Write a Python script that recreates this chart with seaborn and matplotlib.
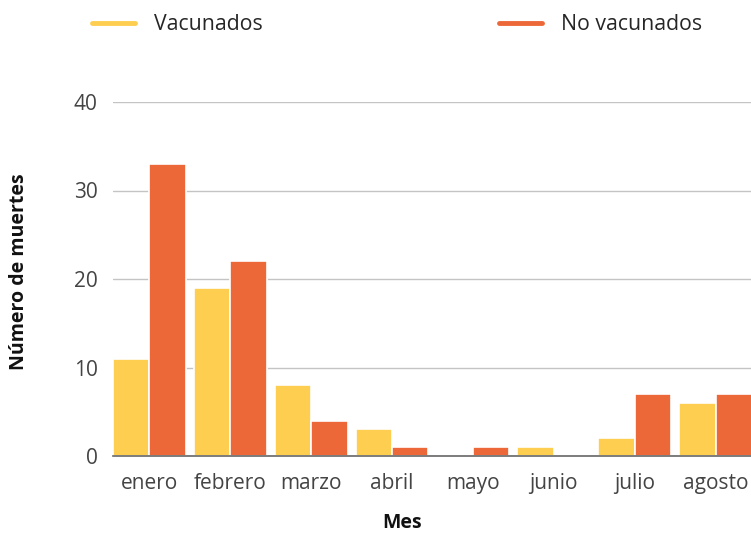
import numpy as np
import pandas as pd
import seaborn as sns
import matplotlib.pyplot as plt
from matplotlib.lines import Line2D

meses = ["enero", "febrero", "marzo", "abril", "mayo", "junio", "julio", "agosto"]
vacunados = [11, 19, 8, 3, 0, 1, 2, 6]
no_vacunados = [33, 22, 4, 1, 1, 0, 7, 7]
grupos = ["Vacunados", "No vacunados"]
colores = ["#FECE50", "#EC6838"]

df = pd.DataFrame({
    "Mes": meses * 2,
    "muertes": vacunados + no_vacunados,
    "grupo": [grupos[0]] * len(meses) + [grupos[1]] * len(meses),
})

sns.set_theme(style="white")
plt.rcParams["font.family"] = ["Open Sans", "DejaVu Sans"]

fig = plt.figure(figsize=(7.51, 5.36), dpi=100)
ax = fig.add_axes([113 / 751, 1 - 456 / 536, 639 / 751, 354 / 536])

sns.barplot(data=df, x="Mes", y="muertes", hue="grupo", palette=colores, saturation=1,
            width=0.9, edgecolor="white", linewidth=1.2, ax=ax, legend=False)

ax.set_ylim(0, 40)
ax.set_xlim(-0.45, 7.45)
ax.set_yticks([0, 10, 20, 30, 40])
ax.yaxis.grid(True, color="#c4c4c4", linewidth=1)
ax.set_axisbelow(True)
for s in ["top", "right", "left"]:
    ax.spines[s].set_visible(False)
ax.spines["bottom"].set_color("#666666")
ax.spines["bottom"].set_linewidth(1.2)
ax.spines["bottom"].set_zorder(5)
ax.tick_params(axis="both", length=0, labelsize=15, labelcolor="#444444")
ax.tick_params(axis="y", pad=11)
ax.tick_params(axis="x", pad=12)

ax.set_ylabel("Número de muertes", fontsize=14, fontweight="bold", color="#111111")
ax.set_xlabel("Mes", fontsize=14, fontweight="bold", color="#111111")
ax.yaxis.set_label_coords(-0.131, 0.52)
ax.xaxis.set_label_coords(0.452, -0.162)

handles = [Line2D([0], [0], color=c, linewidth=3.5, solid_capstyle="round") for c in colores]
fig.legend(handles, grupos, loc="center left", bbox_to_anchor=(92 / 751, 1 - 25 / 536),
           ncol=2, frameon=False, fontsize=15.3, handlelength=2.0, handletextpad=0.9,
           columnspacing=11.15, borderpad=0, borderaxespad=0)

plt.savefig("out.png", dpi=100)
